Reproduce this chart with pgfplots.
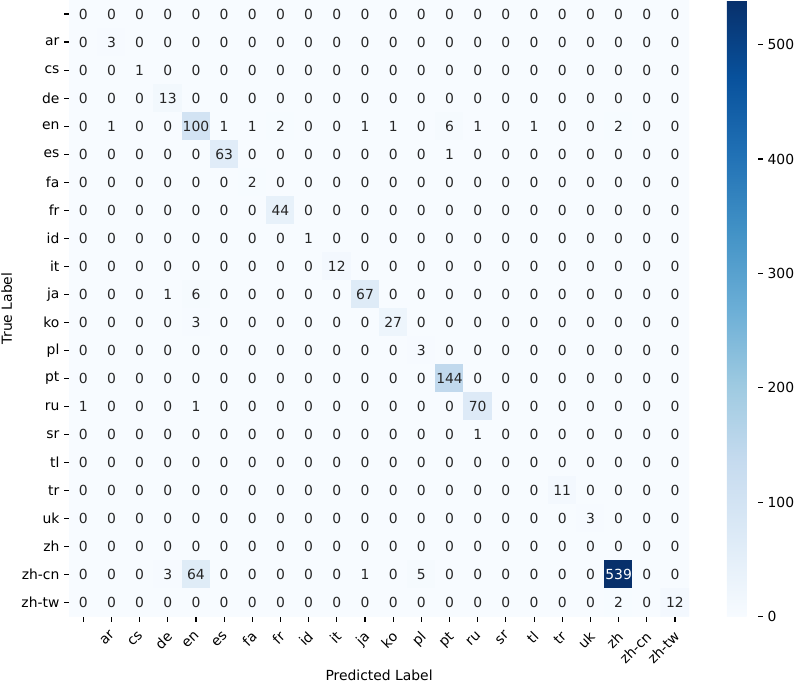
\documentclass[border=0pt]{standalone}
\usepackage{fontspec}
\setmainfont{DejaVu Sans}
\usepackage{pgfplots}
\usepackage{pgfplotstable}
\pgfplotsset{compat=1.18}
\definecolor{annot}{HTML}{262626}

% confusion matrix: x = predicted, y = true (row index from top), c = count
\pgfplotstableread[row sep=\\]{
x y c\\
0 0 0\\ 1 0 0\\ 2 0 0\\ 3 0 0\\ 4 0 0\\ 5 0 0\\ 6 0 0\\ 7 0 0\\ 8 0 0\\ 9 0 0\\ 10 0 0\\ 11 0 0\\ 12 0 0\\ 13 0 0\\ 14 0 0\\ 15 0 0\\ 16 0 0\\ 17 0 0\\ 18 0 0\\ 19 0 0\\ 20 0 0\\ 21 0 0\\
0 1 0\\ 1 1 3\\ 2 1 0\\ 3 1 0\\ 4 1 0\\ 5 1 0\\ 6 1 0\\ 7 1 0\\ 8 1 0\\ 9 1 0\\ 10 1 0\\ 11 1 0\\ 12 1 0\\ 13 1 0\\ 14 1 0\\ 15 1 0\\ 16 1 0\\ 17 1 0\\ 18 1 0\\ 19 1 0\\ 20 1 0\\ 21 1 0\\
0 2 0\\ 1 2 0\\ 2 2 1\\ 3 2 0\\ 4 2 0\\ 5 2 0\\ 6 2 0\\ 7 2 0\\ 8 2 0\\ 9 2 0\\ 10 2 0\\ 11 2 0\\ 12 2 0\\ 13 2 0\\ 14 2 0\\ 15 2 0\\ 16 2 0\\ 17 2 0\\ 18 2 0\\ 19 2 0\\ 20 2 0\\ 21 2 0\\
0 3 0\\ 1 3 0\\ 2 3 0\\ 3 3 13\\ 4 3 0\\ 5 3 0\\ 6 3 0\\ 7 3 0\\ 8 3 0\\ 9 3 0\\ 10 3 0\\ 11 3 0\\ 12 3 0\\ 13 3 0\\ 14 3 0\\ 15 3 0\\ 16 3 0\\ 17 3 0\\ 18 3 0\\ 19 3 0\\ 20 3 0\\ 21 3 0\\
0 4 0\\ 1 4 1\\ 2 4 0\\ 3 4 0\\ 4 4 100\\ 5 4 1\\ 6 4 1\\ 7 4 2\\ 8 4 0\\ 9 4 0\\ 10 4 1\\ 11 4 1\\ 12 4 0\\ 13 4 6\\ 14 4 1\\ 15 4 0\\ 16 4 1\\ 17 4 0\\ 18 4 0\\ 19 4 2\\ 20 4 0\\ 21 4 0\\
0 5 0\\ 1 5 0\\ 2 5 0\\ 3 5 0\\ 4 5 0\\ 5 5 63\\ 6 5 0\\ 7 5 0\\ 8 5 0\\ 9 5 0\\ 10 5 0\\ 11 5 0\\ 12 5 0\\ 13 5 1\\ 14 5 0\\ 15 5 0\\ 16 5 0\\ 17 5 0\\ 18 5 0\\ 19 5 0\\ 20 5 0\\ 21 5 0\\
0 6 0\\ 1 6 0\\ 2 6 0\\ 3 6 0\\ 4 6 0\\ 5 6 0\\ 6 6 2\\ 7 6 0\\ 8 6 0\\ 9 6 0\\ 10 6 0\\ 11 6 0\\ 12 6 0\\ 13 6 0\\ 14 6 0\\ 15 6 0\\ 16 6 0\\ 17 6 0\\ 18 6 0\\ 19 6 0\\ 20 6 0\\ 21 6 0\\
0 7 0\\ 1 7 0\\ 2 7 0\\ 3 7 0\\ 4 7 0\\ 5 7 0\\ 6 7 0\\ 7 7 44\\ 8 7 0\\ 9 7 0\\ 10 7 0\\ 11 7 0\\ 12 7 0\\ 13 7 0\\ 14 7 0\\ 15 7 0\\ 16 7 0\\ 17 7 0\\ 18 7 0\\ 19 7 0\\ 20 7 0\\ 21 7 0\\
0 8 0\\ 1 8 0\\ 2 8 0\\ 3 8 0\\ 4 8 0\\ 5 8 0\\ 6 8 0\\ 7 8 0\\ 8 8 1\\ 9 8 0\\ 10 8 0\\ 11 8 0\\ 12 8 0\\ 13 8 0\\ 14 8 0\\ 15 8 0\\ 16 8 0\\ 17 8 0\\ 18 8 0\\ 19 8 0\\ 20 8 0\\ 21 8 0\\
0 9 0\\ 1 9 0\\ 2 9 0\\ 3 9 0\\ 4 9 0\\ 5 9 0\\ 6 9 0\\ 7 9 0\\ 8 9 0\\ 9 9 12\\ 10 9 0\\ 11 9 0\\ 12 9 0\\ 13 9 0\\ 14 9 0\\ 15 9 0\\ 16 9 0\\ 17 9 0\\ 18 9 0\\ 19 9 0\\ 20 9 0\\ 21 9 0\\
0 10 0\\ 1 10 0\\ 2 10 0\\ 3 10 1\\ 4 10 6\\ 5 10 0\\ 6 10 0\\ 7 10 0\\ 8 10 0\\ 9 10 0\\ 10 10 67\\ 11 10 0\\ 12 10 0\\ 13 10 0\\ 14 10 0\\ 15 10 0\\ 16 10 0\\ 17 10 0\\ 18 10 0\\ 19 10 0\\ 20 10 0\\ 21 10 0\\
0 11 0\\ 1 11 0\\ 2 11 0\\ 3 11 0\\ 4 11 3\\ 5 11 0\\ 6 11 0\\ 7 11 0\\ 8 11 0\\ 9 11 0\\ 10 11 0\\ 11 11 27\\ 12 11 0\\ 13 11 0\\ 14 11 0\\ 15 11 0\\ 16 11 0\\ 17 11 0\\ 18 11 0\\ 19 11 0\\ 20 11 0\\ 21 11 0\\
0 12 0\\ 1 12 0\\ 2 12 0\\ 3 12 0\\ 4 12 0\\ 5 12 0\\ 6 12 0\\ 7 12 0\\ 8 12 0\\ 9 12 0\\ 10 12 0\\ 11 12 0\\ 12 12 3\\ 13 12 0\\ 14 12 0\\ 15 12 0\\ 16 12 0\\ 17 12 0\\ 18 12 0\\ 19 12 0\\ 20 12 0\\ 21 12 0\\
0 13 0\\ 1 13 0\\ 2 13 0\\ 3 13 0\\ 4 13 0\\ 5 13 0\\ 6 13 0\\ 7 13 0\\ 8 13 0\\ 9 13 0\\ 10 13 0\\ 11 13 0\\ 12 13 0\\ 13 13 144\\ 14 13 0\\ 15 13 0\\ 16 13 0\\ 17 13 0\\ 18 13 0\\ 19 13 0\\ 20 13 0\\ 21 13 0\\
0 14 1\\ 1 14 0\\ 2 14 0\\ 3 14 0\\ 4 14 1\\ 5 14 0\\ 6 14 0\\ 7 14 0\\ 8 14 0\\ 9 14 0\\ 10 14 0\\ 11 14 0\\ 12 14 0\\ 13 14 0\\ 14 14 70\\ 15 14 0\\ 16 14 0\\ 17 14 0\\ 18 14 0\\ 19 14 0\\ 20 14 0\\ 21 14 0\\
0 15 0\\ 1 15 0\\ 2 15 0\\ 3 15 0\\ 4 15 0\\ 5 15 0\\ 6 15 0\\ 7 15 0\\ 8 15 0\\ 9 15 0\\ 10 15 0\\ 11 15 0\\ 12 15 0\\ 13 15 0\\ 14 15 1\\ 15 15 0\\ 16 15 0\\ 17 15 0\\ 18 15 0\\ 19 15 0\\ 20 15 0\\ 21 15 0\\
0 16 0\\ 1 16 0\\ 2 16 0\\ 3 16 0\\ 4 16 0\\ 5 16 0\\ 6 16 0\\ 7 16 0\\ 8 16 0\\ 9 16 0\\ 10 16 0\\ 11 16 0\\ 12 16 0\\ 13 16 0\\ 14 16 0\\ 15 16 0\\ 16 16 0\\ 17 16 0\\ 18 16 0\\ 19 16 0\\ 20 16 0\\ 21 16 0\\
0 17 0\\ 1 17 0\\ 2 17 0\\ 3 17 0\\ 4 17 0\\ 5 17 0\\ 6 17 0\\ 7 17 0\\ 8 17 0\\ 9 17 0\\ 10 17 0\\ 11 17 0\\ 12 17 0\\ 13 17 0\\ 14 17 0\\ 15 17 0\\ 16 17 0\\ 17 17 11\\ 18 17 0\\ 19 17 0\\ 20 17 0\\ 21 17 0\\
0 18 0\\ 1 18 0\\ 2 18 0\\ 3 18 0\\ 4 18 0\\ 5 18 0\\ 6 18 0\\ 7 18 0\\ 8 18 0\\ 9 18 0\\ 10 18 0\\ 11 18 0\\ 12 18 0\\ 13 18 0\\ 14 18 0\\ 15 18 0\\ 16 18 0\\ 17 18 0\\ 18 18 3\\ 19 18 0\\ 20 18 0\\ 21 18 0\\
0 19 0\\ 1 19 0\\ 2 19 0\\ 3 19 0\\ 4 19 0\\ 5 19 0\\ 6 19 0\\ 7 19 0\\ 8 19 0\\ 9 19 0\\ 10 19 0\\ 11 19 0\\ 12 19 0\\ 13 19 0\\ 14 19 0\\ 15 19 0\\ 16 19 0\\ 17 19 0\\ 18 19 0\\ 19 19 0\\ 20 19 0\\ 21 19 0\\
0 20 0\\ 1 20 0\\ 2 20 0\\ 3 20 3\\ 4 20 64\\ 5 20 0\\ 6 20 0\\ 7 20 0\\ 8 20 0\\ 9 20 0\\ 10 20 1\\ 11 20 0\\ 12 20 5\\ 13 20 0\\ 14 20 0\\ 15 20 0\\ 16 20 0\\ 17 20 0\\ 18 20 0\\ 19 20 539\\ 20 20 0\\ 21 20 0\\
0 21 0\\ 1 21 0\\ 2 21 0\\ 3 21 0\\ 4 21 0\\ 5 21 0\\ 6 21 0\\ 7 21 0\\ 8 21 0\\ 9 21 0\\ 10 21 0\\ 11 21 0\\ 12 21 0\\ 13 21 0\\ 14 21 0\\ 15 21 0\\ 16 21 0\\ 17 21 0\\ 18 21 0\\ 19 21 2\\ 20 21 0\\ 21 21 12\\
}\confmat

\begin{document}
\begin{tikzpicture}
\path[use as bounding box] (-49.8pt,-47pt) rectangle (522.6pt,444pt);
\begin{axis}[
    at={(0pt,0pt)}, anchor=south west,
    scale only axis, width=446.3pt, height=444pt,
    xmin=-0.5, xmax=21.5, ymin=-0.5, ymax=21.5,
    axis line style={draw=none},
    xtick={0,...,21}, ytick={0,...,21},
    xticklabels={{},ar,cs,de,en,es,fa,fr,id,it,ja,ko,pl,pt,ru,sr,tl,tr,uk,zh,zh-cn,zh-tw},
    yticklabels={zh-tw,zh-cn,zh,uk,tr,tl,sr,ru,pt,pl,ko,ja,it,id,fr,fa,es,en,de,cs,ar,{}},
    xtick pos=bottom, ytick pos=left,
    tick align=outside, major tick length=3.5pt,
    tick style={black, line width=0.8pt},
    tick label style={font=\fontsize{10}{12}\selectfont},
    xticklabel style={rotate=45, anchor=north east, xshift=-2pt},
    xlabel={Predicted Label}, ylabel={True Label},
    label style={font=\fontsize{10}{12}\selectfont},
    xlabel style={yshift=4.5pt},
    colormap={blues}{rgb255=(247,251,255) rgb255=(222,235,247) rgb255=(198,219,239)
        rgb255=(158,202,225) rgb255=(107,174,214) rgb255=(66,146,198)
        rgb255=(33,113,181) rgb255=(8,81,156) rgb255=(8,48,107)},
    point meta min=0, point meta max=539,
    colorbar,
    colorbar style={
        scale only axis,
        at={(parent axis.north east)}, anchor=north west, xshift=18.7pt,
        width=22.3pt,
        ytick={0,100,...,500},
        axis line style={draw=none},
        ytick pos=right, yticklabel pos=right,
        tick align=outside, major tick length=3.5pt,
        tick style={black, line width=0.8pt},
        yticklabel style={font=\fontsize{10}{12}\selectfont},
        /pgf/number format/assume math mode=true,
    },
]
\addplot[matrix plot*, mesh/cols=22, point meta=explicit]
    table[x=x, y expr=21-\thisrow{y}, meta=c]{\confmat};
\addplot[only marks, mark=none, point meta=explicit,
    visualization depends on={\thisrow{c} \as \cval},
    nodes near coords={\ifdim\cval pt>300pt \color{white}\fi\pgfmathprintnumber[assume math mode=true]{\cval}},
    every node near coord/.append style={font=\fontsize{10}{12}\selectfont, text=annot, anchor=center},
] table[x=x, y expr=21-\thisrow{y}, meta=c]{\confmat};
\end{axis}
\end{tikzpicture}
\end{document}
